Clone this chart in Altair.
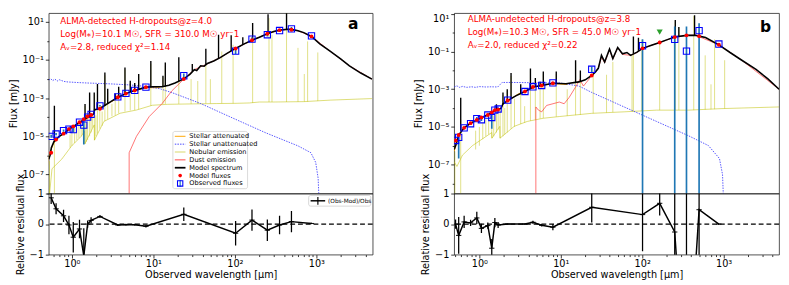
import altair as alt
import numpy as np
import pandas as pd

FONT = "DejaVu Sans"
OLIVE = "#bfbf00"
STEEL = "#1f77b4"
BLUE_SQ = "#0000ff"
UNATT = "#2a2aff"
DUST = "#ff3030"
TOP_H = 186
RES_H = 63

# ================= Panel a : ALMA-detected =================
# (wavelength um, log10 flux mJy)
a_spectrum = [(0.52,-6.2),(0.54,-6.0),(0.56,-5.6),(0.6,-5.3),(0.7,-5.0),(0.8,-4.85),(0.92,-4.62),(1.05,-4.48),
              (1.25,-4.26),(1.45,-4.1),(1.6,-3.96),(1.75,-3.88),(1.86,-3.82),(1.9,-3.6),(2.2,-3.55),(2.6,-3.35),
              (3.0,-3.18),(3.66,-2.95),(4.6,-2.76),(5.9,-2.59),(8.1,-2.42),(10.0,-2.4),(12.8,-2.4),(15.5,-2.32),
              (18.4,-2.2),(23.6,-1.99),(28.0,-1.75),(31.8,-1.5),(34.0,-1.55),(38.0,-1.3),(42.0,-1.32),(46.0,-1.18),
              (55.0,-1.05),(66.0,-0.87),(80.0,-0.65),(102.0,-0.39),(130.0,-0.15),(162.0,0.04),(200.0,0.2),
              (250.0,0.38),(300.0,0.5),(353.0,0.57),(450.0,0.62),(494.0,0.61),(594.0,0.54),(700.0,0.44),
              (870.0,0.24),(1100.0,-0.15),(1470.0,-0.53),(2000.0,-0.95),(2540.0,-1.3),(3500.0,-1.68),(4800.0,-2.0)]
# emission lines of the model spectrum: (wavelength, base, top)
a_spec_lines = [(0.61,-5.3,-3.4),(1.45,-4.1,-3.3),(1.65,-3.95,-2.7),(1.88,-3.8,-2.7),(2.06,-3.57,-2.25),
                (2.54,-3.4,-1.65),(2.75,-3.3,-2.5),(3.4,-3.05,-2.76),(3.75,-2.93,-2.4),(4.48,-2.78,-1.39),
                (5.2,-2.68,-2.08),(5.9,-2.59,-2.2),(6.6,-2.52,-1.73),(9.3,-2.41,-1.05),(13.1,-2.39,-1.82),
                (14.0,-2.38,-1.13),(20.5,-2.1,-0.85),(30.0,-1.6,-1.2),(44.0,-1.25,-0.4),(63.0,-0.9,0.33),
                (90.0,-0.52,0.3),(125.0,-0.18,0.2),(165.0,0.05,0.95),(255.0,0.39,1.4),(430.0,0.62,1.8)]
a_nebular = [(0.52,-8.5),(0.57,-6.7),(0.75,-6.2),(0.99,-5.51),(1.3,-5.0),(1.43,-4.74),(1.44,-5.4),(1.88,-4.4),
             (1.89,-5.2),(2.47,-4.22),(3.9,-3.79),(6.2,-3.62),(9.7,-3.37),(15.0,-3.32),(30.0,-3.3),(60.0,-3.28),
             (100.0,-3.27),(150.0,-3.25),(200.0,-3.2),(300.0,-3.2),(700.0,-3.18),(1500.0,-3.1),(4800.0,-3.02)]
a_neb_lines = [(0.53,-9.0,-6.3),(0.61,-9.0,-4.3),(0.95,-5.6,-4.9),(1.0,-5.5,-4.7),(1.08,-5.35,-4.55),
               (1.15,-5.2,-4.5),(1.22,-5.1,-4.35),(1.3,-5.0,-4.25),(1.36,-4.9,-4.5),(1.45,-5.4,-3.4),
               (1.5,-5.3,-4.3),(1.56,-5.2,-4.1),(1.65,-5.0,-2.8),(1.72,-4.8,-4.0),(1.8,-4.55,-3.9),
               (1.9,-5.2,-2.8),(1.97,-5.0,-3.9),(2.06,-4.85,-2.3),(2.2,-4.6,-3.6),(2.35,-4.45,-3.7),
               (2.54,-4.2,-1.8),(2.75,-4.1,-2.7),(3.1,-3.95,-3.3),(3.4,-3.9,-2.9),(3.75,-3.8,-2.5),
               (4.48,-3.7,-1.5),(5.2,-3.64,-2.2),(5.9,-3.62,-2.4),(6.6,-3.58,-1.8),(9.3,-3.4,-1.2),
               (13.1,-3.32,-1.9),(14.0,-3.3,-1.3),(20.5,-3.3,-1.6),(29.0,-3.3,-2.0),(35.0,-3.3,-2.1),
               (44.0,-3.28,-1.2),(50.0,-3.28,-2.0),(69.0,-3.27,-0.55),(95.0,-3.27,-0.2),(165.0,-3.25,0.15),
               (262.0,-3.2,1.2),(285.0,-3.2,0.33),(430.0,-3.2,1.8),(594.0,-3.19,-0.36),(710.0,-3.18,-1.73),
               (780.0,-3.18,-0.02),(1040.0,-3.15,-0.6)]
a_unatt = [(0.52,-2.05),(0.55,-1.98),(0.58,-2.08),(0.62,-2.0),(0.66,-2.1),(0.7,-2.03),(0.8,-2.12),(0.9,-2.15),
           (1.0,-2.16),(1.2,-2.18),(1.5,-2.2),(2.0,-2.22),(3.0,-2.25),(5.0,-2.3),(8.0,-2.38),(12.0,-2.5),
           (18.0,-2.75),(38.0,-3.28),(95.0,-4.05),(240.0,-4.82),(594.0,-5.5),(855.0,-5.86),(980.0,-6.37),
           (1050.0,-7.2),(1080.0,-8.5)]
a_att = [(0.5,-6.6),(0.52,-6.1),(0.55,-5.75),(0.6,-5.35),(0.7,-5.02),(0.8,-4.87),(1.0,-4.55),(1.5,-4.1),
         (1.85,-3.85),(1.9,-3.62),(3.0,-3.2),(5.0,-2.7),(8.0,-2.45),(12.0,-2.45)]
a_dust = [(5.04,-9.0),(5.04,-5.86),(6.2,-5.0),(8.9,-3.96),(12.8,-3.28),(16.8,-2.62),(23.6,-2.0),(31.8,-1.5),
          (46.0,-1.2),(66.0,-0.87),(102.0,-0.39),(162.0,0.04),(250.0,0.38),(353.0,0.57),(450.0,0.62),
          (594.0,0.54),(870.0,0.24),(1470.0,-0.53),(2540.0,-1.3),(4800.0,-2.0)]
a_bands = [0.557, 0.64, 0.79, 0.92, 1.04, 1.24, 1.4, 1.56, 1.72, 2.21, 3.66, 4.6, 5.9, 8.1, 23.6,
           102.0, 162.0, 250.0, 353.0, 494.0, 870.0]
a_model_logf = [-5.86, -5.17, -4.86, -4.62, -4.48, -4.26, -4.1, -3.96, -3.88, -3.55, -2.95, -2.76, -2.59,
                -2.42, -1.99, -0.39, 0.04, 0.38, 0.57, 0.59, 0.24]
a_obs_logf = [-5.0, -4.88, -4.7, -4.62, -4.65, -4.26, -4.41, -3.99, -3.85, -3.4, -2.93, -2.75, -2.59,
              -2.42, -1.82, -0.53, 0.1, 0.33, 0.55, 0.64, 0.27]
a_obs_bars = [(0.557,-5.08,-4.92),(0.64,-4.94,-4.82),(0.79,-4.76,-4.64),(0.92,-4.7,-4.54),(1.04,-4.8,-4.5),
              (1.24,-4.32,-4.2),(1.4,-5.43,-4.1),(1.56,-4.04,-3.94),(1.72,-3.9,-3.8),(2.21,-3.44,-3.36),
              (3.66,-2.96,-2.9),(4.6,-2.78,-2.72),(5.9,-2.62,-2.56),(8.1,-2.45,-2.39),(23.6,-1.94,-1.7),
              (102.0,-0.68,-0.38),(162.0,-0.05,0.2),(250.0,0.23,0.43),(353.0,0.47,0.63),(494.0,0.54,0.74),
              (870.0,0.24,0.3)]
a_res = [0.86, 0.5, 0.27, -0.03, -0.43, -0.16, -1.04, 0.0, 0.12, 0.25, -0.03, -0.02, -0.02, -0.07, 0.32,
         -0.3, 0.13, -0.2, -0.03, 0.08, 0.02]
a_res_err = [0.2, 0.18, 0.2, 0.3, 0.5, 0.3, 0.9, 0.12, 0.1, 0.05, 0.03, 0.03, 0.03, 0.04, 0.22,
             0.4, 0.35, 0.35, 0.3, 0.35, 0.02]
a_texts = ["ALMA-detected H-dropouts@z=4.0",
           "Log(M\u204e)=10.1 M\u2609, SFR = 310.0 M\u2609 yr\u207b1",
           "A\u1d65=2.8, reduced \u03c7\u00b2=1.14"]

# ================= Panel b : ALMA-undetected =================
b_spectrum = [(0.49,-6.2),(0.52,-5.9),(0.557,-5.43),(0.65,-5.05),(0.78,-4.8),(0.94,-4.63),(1.06,-4.5),
              (1.27,-4.37),(1.42,-4.23),(1.55,-4.11),(1.7,-4.08),(1.85,-4.0),(1.95,-3.77),(2.23,-3.6),
              (2.8,-3.35),(3.63,-3.12),(4.55,-2.88),(5.83,-2.8),(8.0,-2.68),(11.6,-2.71),(16.7,-2.61),
              (20.0,-2.5),(24.0,-2.27),(26.5,-2.1),(28.9,-1.89),(31.6,-1.2),(34.6,-1.55),(39.7,-0.86),
              (43.6,-1.37),(50.0,-0.78),(57.2,-1.12),(65.0,-1.05),(72.0,-1.2),(86.5,-1.03),(101.0,-0.83),
              (130.0,-0.66),(164.0,-0.52),(200.0,-0.38),(251.0,-0.23),(350.0,-0.14),(450.0,-0.13),
              (500.0,-0.18),(600.0,-0.25),(875.0,-0.64),(1200.0,-1.05),(1620.0,-1.42),(2500.0,-1.95),
              (3500.0,-2.45),(4800.0,-3.0)]
b_spec_lines = [(0.59,-5.2,-3.45),(1.62,-4.08,-3.8),(1.95,-3.8,-3.17),(2.2,-3.6,-3.0),(2.45,-3.5,-2.14),
                (3.22,-3.2,-2.74),(4.24,-2.95,-1.9),(4.87,-2.85,-2.4),(5.57,-2.8,-2.6),(6.1,-2.78,-2.06),
                (8.8,-2.68,-2.06),(15.2,-2.65,-1.46),(17.4,-2.6,-2.0),(78.0,-1.1,-0.2),(90.0,-0.95,-0.27),
                (255.0,-0.22,0.68),(282.0,-0.2,0.3),(440.0,-0.13,0.93)]
b_nebular = [(0.49,-6.85),(0.53,-7.1),(0.62,-6.5),(0.82,-6.0),(1.08,-5.65),(1.42,-5.3),(1.43,-5.6),
             (1.78,-4.97),(1.79,-5.6),(2.68,-4.97),(3.87,-4.71),(6.1,-4.54),(9.6,-4.45),(24.0,-4.28),
             (60.0,-4.2),(150.0,-4.11),(375.0,-4.11),(930.0,-4.03),(4800.0,-3.94)]
b_neb_lines = [(0.5,-9.0,-6.3),(0.59,-9.0,-4.6),(0.9,-6.2,-5.2),(1.0,-6.0,-5.0),(1.1,-5.65,-4.8),
               (1.2,-5.5,-4.6),(1.3,-5.4,-4.5),(1.42,-5.6,-4.3),(1.5,-5.5,-4.4),(1.62,-5.3,-3.9),
               (1.7,-5.15,-4.3),(1.8,-5.6,-4.0),(1.95,-5.5,-3.3),(2.05,-5.4,-4.0),(2.2,-5.3,-3.1),
               (2.45,-5.1,-2.3),(2.7,-5.0,-3.5),(3.22,-4.85,-2.9),(3.6,-4.78,-3.9),(4.24,-4.68,-2.0),
               (4.87,-4.62,-2.6),(5.57,-4.56,-2.8),(6.1,-4.54,-2.2),(8.8,-4.46,-2.2),(12.0,-4.42,-3.0),
               (15.2,-4.38,-1.6),(17.4,-4.36,-2.2),(25.0,-4.28,-2.0),(36.5,-4.25,-2.23),(43.6,-4.22,-1.55),
               (75.0,-4.18,-1.2),(78.0,-4.18,-0.25),(99.0,-4.16,-0.37),(164.0,-4.11,-0.4),(255.0,-4.11,0.6),
               (282.0,-4.11,0.3),(430.0,-4.11,0.9),(594.0,-4.08,-1.2),(700.0,-4.07,-2.74),(775.0,-4.06,-0.35),
               (1030.0,-4.03,-1.46)]
b_unatt = [(0.49,-2.88),(0.53,-2.82),(0.57,-2.9),(0.62,-2.85),(0.7,-2.9),(0.8,-2.87),(0.9,-2.9),(1.0,-2.86),
           (1.2,-2.88),(1.4,-2.87),(1.68,-2.88),(1.8,-2.75),(1.9,-2.64),(2.5,-2.64),(4.0,-2.65),(6.0,-2.66),
           (9.6,-2.66),(16.7,-2.83),(24.0,-3.17),(60.0,-3.94),(150.0,-4.71),(375.0,-5.48),(650.0,-5.99),
           (890.0,-6.68),(970.0,-7.53),(1000.0,-9.0)]
b_att = [(0.49,-6.3),(0.52,-5.95),(0.557,-5.45),(0.65,-5.07),(0.8,-4.8),(1.0,-4.57),(1.5,-4.15),
         (1.85,-4.02),(1.95,-3.8),(3.0,-3.25),(5.0,-2.85),(8.0,-2.7),(12.0,-2.75)]
b_dust = [(4.94,-9.5),(4.94,-3.94),(5.32,-4.11),(5.83,-4.2),(6.7,-3.86),(9.6,-3.68),(11.0,-3.77),
          (12.7,-3.43),(15.9,-2.74),(17.1,-2.49),(19.0,-2.83),(22.0,-2.49),(24.0,-2.27),(28.9,-1.89),
          (31.6,-1.3),(34.6,-1.6),(39.7,-0.9),(43.6,-1.4),(50.0,-0.8),(57.2,-1.15),(72.0,-1.2),(86.5,-1.05),
          (101.0,-0.83),(164.0,-0.52),(251.0,-0.23),(350.0,-0.14),(450.0,-0.13),(875.0,-0.64),
          (1620.0,-1.42),(4800.0,-3.0)]
b_bands = [0.51, 0.557, 0.65, 0.78, 0.93, 1.06, 1.27, 1.42, 1.55, 1.7, 2.23, 3.63, 4.55, 5.83, 8.0, 24.0,
           101.0, 164.0, 251.0, 350.0, 500.0, 875.0]
b_model_logf = [-5.72, -5.43, -5.05, -4.8, -4.63, -4.5, -4.37, -4.23, -4.11, -4.08, -3.6, -3.12, -2.88, -2.8,
                -2.68, -2.27, -0.83, -0.52, -0.23, -0.14, -0.18, -0.64]
b_obs_logf = [-5.72, -5.56, -5.05, -4.83, -4.56, -4.62, -4.37, -4.5, -4.11, -4.05, -3.58, -3.12, -2.87, -2.8,
              -2.66, -1.94, -0.69, None, -0.35, -0.98, 0.11, -0.6]
b_upper_limits = [(164.0, 0.03)]
b_obs_bars = [(0.51,-5.8,-5.64),(0.557,-6.68,-5.45),(0.65,-5.12,-4.98),(0.78,-4.9,-4.76),(0.93,-4.65,-4.48),
              (1.06,-4.68,-4.56),(1.27,-4.42,-4.32),(1.42,-5.1,-4.35),(1.55,-4.16,-4.06),(1.7,-4.09,-4.01),
              (2.23,-3.6,-3.56),(3.63,-3.13,-3.11),(4.55,-2.89,-2.85),(5.83,-2.82,-2.78),(8.0,-2.69,-2.63),
              (24.0,-2.1,-1.8),(101.0,-12.0,-0.35),(251.0,-12.0,0.33),(350.0,-12.0,0.33),(500.0,-12.0,0.5),
              (875.0,-0.62,-0.58)]
b_res = [0.0, -0.37, 0.07, 0.04, 0.2, -0.14, -0.05, -0.79, 0.05, -0.03, 0.0, 0.0, 0.06, -0.04, -0.1, 0.55,
         0.31, 0.68, -0.26, -6.0, 0.47, 0.0]
b_res_err = [0.15, 0.6, 0.2, 0.1, 0.2, 0.15, 0.1, 0.3, 0.15, 0.1, 0.02, 0.02, 0.05, 0.04, 0.1, 0.5,
             1.2, 0.4, 2.0, 8.0, 3.0, 0.03]
b_texts = ["ALMA-undetected H-dropouts@z=3.8",
           "Log(M\u204e)=10.3 M\u2609, SFR = 45.0 M\u2609 yr\u207b1",
           "A\u1d65=2.0, reduced \u03c7\u00b2=0.22"]

LEGEND_LABELS = ["Stellar attenuated", "Stellar unattenuated", "Nebular emission", "Dust emission",
                 "Model spectrum", "Model fluxes", "Observed fluxes"]

# ================= helpers =================
ONE = pd.DataFrame({"k": [0]})


def pairs_df(pairs):
    return pd.DataFrame({"lam": [p[0] for p in pairs], "f": [10.0 ** p[1] for p in pairs],
                         "i": list(range(len(pairs)))})


def seg_df(triples):
    return pd.DataFrame({"lam": [t[0] for t in triples], "f": [10.0 ** t[1] for t in triples],
                         "f2": [10.0 ** t[2] for t in triples]})


RS = alt.Scale(domain=[-1, 1], nice=False)

E = "round(log(datum.value)/LN10)"
LBL_Y = (f"{E} == 1 ? '10\u00b9' : {E} == -1 ? '10\u207b\u00b9' : {E} == -3 ? '10\u207b\u00b3' : "
         f"{E} == -5 ? '10\u207b\u2075' : {E} == -7 ? '10\u207b\u2077' : ''")
TS_Y = {"condition": {"test": f"({E} + 100) % 2 == 1", "value": 3.5}, "value": 2}
LBL_X = ("datum.value == 1 ? '10\u2070' : datum.value == 10 ? '10\u00b9' : "
         "datum.value == 100 ? '10\u00b2' : datum.value == 1000 ? '10\u00b3' : ''")
TS_X = {"condition": {"test": "abs(log(datum.value)/LN10 - round(log(datum.value)/LN10)) < 0.001",
                      "value": 3.5}, "value": 2}


def y_top_axis(flush):
    kw = dict(values=[10.0 ** e for e in range(-8, 2)], labelExpr=LBL_Y, tickSize=TS_Y, title="Flux [mJy]",
              titlePadding=4, labelPadding=2)
    if flush:
        kw["labelFlush"] = 6
    return alt.Axis(**kw)


def x_bot_axis(lo, hi):
    ticks = [m * 10.0 ** d for d in range(-1, 4) for m in range(1, 10) if lo <= m * 10.0 ** d <= hi]
    return alt.Axis(values=ticks, labelExpr=LBL_X, tickSize=TS_X, title="Observed wavelength [\u03bcm]",
                    titlePadding=1, labelPadding=1, labelFlush=False)


YAX_RES = alt.Axis(values=[-1, 0, 1], labelExpr="datum.value < 0 ? '\u22121' : '' + datum.value",
                   tickSize=3.5, title="Relative residual flux", titlePadding=4, labelPadding=2)


def text_layer(s, x, y, size=8.0, color="red", weight="normal", align="left"):
    return alt.Chart(ONE).mark_text(align=align, baseline="middle", fontSize=size, color=color,
                                    fontWeight=weight, font=FONT).encode(
        x=alt.value(x), y=alt.value(y), text=alt.value(s))


def hseg(x1, x2, y, **kw):
    return alt.Chart(ONE).mark_rule(**kw).encode(x=alt.value(x1), x2=alt.value(x2), y=alt.value(y))


def vseg(x, y1, y2, **kw):
    return alt.Chart(ONE).mark_rule(**kw).encode(x=alt.value(x), y=alt.value(y1), y2=alt.value(y2))


def legend_layers():
    L = [alt.Chart(ONE).mark_rect(fill="white", stroke="#cccccc", strokeWidth=0.8, cornerRadius=2,
                                  opacity=0.9).encode(x=alt.value(128), x2=alt.value(205),
                                                      y=alt.value(122), y2=alt.value(181))]
    rows = [127 + 8.1 * k for k in range(7)]
    L.append(hseg(130, 141, rows[0], color="orange", strokeWidth=1))
    L.append(hseg(130, 141, rows[1], color=UNATT, strokeWidth=0.9, strokeDash=[1.5, 1.2]))
    L.append(hseg(130, 141, rows[2], color=OLIVE, strokeWidth=1, opacity=0.6))
    L.append(hseg(130, 141, rows[3], color=DUST, strokeWidth=0.9))
    L.append(hseg(130, 141, rows[4], color="black", strokeWidth=1.8))
    L.append(alt.Chart(ONE).mark_point(shape="circle", filled=True, color="red", size=14, opacity=1).encode(
        x=alt.value(135.5), y=alt.value(rows[5])))
    L.append(vseg(135.5, rows[6] - 3.5, rows[6] + 3.5, color=STEEL, strokeWidth=1.2))
    L.append(alt.Chart(ONE).mark_point(shape="square", filled=False, color=BLUE_SQ, size=30,
                                       strokeWidth=1.1, opacity=1).encode(x=alt.value(135.5), y=alt.value(rows[6])))
    for k, lab in enumerate(LEGEND_LABELS):
        L.append(text_layer(lab, 145, rows[k], size=6.8, color="black"))
    return L


def top_panel(xs, ys, flush, width, spectrum, spec_lines, nebular, neb_lines, unatt, att, dust, bands,
              model_logf, obs_logf, obs_bars, texts, text_xy, letter, letter_xy, upper=None, legend=False):
    x = alt.X("lam:Q", scale=xs, axis=None)
    y = alt.Y("f:Q", scale=ys, axis=y_top_axis(flush))
    y2 = alt.Y2("f2:Q")
    o = alt.Order("i:Q")
    layers = [
        alt.Chart(pairs_df(nebular)).mark_line(color=OLIVE, strokeWidth=0.9, opacity=0.6, clip=True).encode(x=x, y=y, order=o),
        alt.Chart(seg_df(neb_lines)).mark_rule(color=OLIVE, strokeWidth=0.8, opacity=0.6, clip=True).encode(x=x, y=y, y2=y2),
        alt.Chart(pairs_df(att)).mark_line(color="orange", strokeWidth=1, clip=True).encode(x=x, y=y, order=o),
        alt.Chart(pairs_df(unatt)).mark_line(color=UNATT, strokeWidth=0.8, strokeDash=[1.5, 1.2], clip=True).encode(x=x, y=y, order=o),
        alt.Chart(pairs_df(dust)).mark_line(color=DUST, strokeWidth=0.8, opacity=0.85, clip=True).encode(x=x, y=y, order=o),
        alt.Chart(pairs_df(spectrum)).mark_line(color="black", strokeWidth=1.6, clip=True).encode(x=x, y=y, order=o),
        alt.Chart(seg_df(spec_lines)).mark_rule(color="black", strokeWidth=1.4, clip=True).encode(x=x, y=y, y2=y2),
        alt.Chart(seg_df(obs_bars)).mark_rule(color=STEEL, strokeWidth=1.7, clip=True).encode(x=x, y=y, y2=y2),
    ]
    obs_pairs = [(l, v) for l, v in zip(bands, obs_logf) if v is not None]
    layers.append(alt.Chart(pairs_df(obs_pairs)).mark_point(shape="square", filled=False, color=BLUE_SQ, size=42,
                                                            strokeWidth=1.1, opacity=1, clip=True).encode(x=x, y=y))
    if upper:
        layers.append(alt.Chart(pairs_df(upper)).mark_point(shape="triangle-down", filled=True, color="#2ca02c",
                                                            size=40, opacity=1, clip=True).encode(x=x, y=y))
    layers.append(alt.Chart(pairs_df(list(zip(bands, model_logf)))).mark_point(
        shape="circle", filled=True, color="red", size=16, opacity=1, clip=True).encode(x=x, y=y))
    for k, s in enumerate(texts):
        layers.append(text_layer(s, text_xy[0], text_xy[1] + 13.5 * k, size=9))
    layers.append(text_layer(letter, letter_xy[0], letter_xy[1], size=16, color="black", weight="bold",
                             align="center"))
    if legend:
        layers += legend_layers()
    return alt.layer(*layers).properties(width=width, height=TOP_H)


def resid_panel(xs, xaxis, width, bands, res, res_err, legend=False):
    df = pd.DataFrame({"lam": bands, "r": res,
                       "lo": [r - e for r, e in zip(res, res_err)],
                       "hi": [r + e for r, e in zip(res, res_err)]})
    x = alt.X("lam:Q", scale=xs, axis=xaxis)
    y = alt.Y("r:Q", scale=RS, axis=YAX_RES)
    layers = [
        alt.Chart(pd.DataFrame({"r": [0.0]})).mark_rule(color="black", strokeWidth=1.3, strokeDash=[5, 3]).encode(y=y),
        alt.Chart(df).mark_rule(color="black", strokeWidth=1.3, clip=True).encode(
            x=x, y=alt.Y("lo:Q", scale=RS, axis=YAX_RES), y2="hi:Q"),
        alt.Chart(df).mark_line(color="black", strokeWidth=1.5, clip=True).encode(x=x, y=y),
        alt.Chart(df).mark_point(shape="M-1,0L1,0", size=30, filled=False, color="black", strokeWidth=1,
                                 opacity=1, clip=True).encode(x=x, y=y),
    ]
    if legend:
        layers += [
            alt.Chart(ONE).mark_rect(fill="white", stroke="#cccccc", strokeWidth=0.8, cornerRadius=2).encode(
                x=alt.value(268), x2=alt.value(332), y=alt.value(2), y2=alt.value(13)),
            hseg(270, 285, 7.5, color="black", strokeWidth=1.5),
            vseg(277.5, 3.5, 11.5, color="black", strokeWidth=1.2),
            text_layer("(Obs-Mod)/Obs", 288, 7.5, size=6, color="black"),
        ]
    return alt.layer(*layers).properties(width=width, height=RES_H)


XS_A = alt.Scale(type="log", domain=[0.52, 4900], nice=False)
XS_B = alt.Scale(type="log", domain=[0.49, 4800], nice=False)

top_a = top_panel(XS_A, alt.Scale(type="log", domain=[1e-8, 29], nice=False), False, 334, a_spectrum,
                  a_spec_lines, a_nebular, a_neb_lines, a_unatt, a_att, a_dust, a_bands, a_model_logf,
                  a_obs_logf, a_obs_bars, a_texts, (12, 8), "a", (314, 11), legend=True)
bot_a = resid_panel(XS_A, x_bot_axis(0.52, 4900), 334, a_bands, a_res, a_res_err, legend=True)

top_b = top_panel(XS_B, alt.Scale(type="log", domain=[2.9e-9, 11], nice=False), True, 335, b_spectrum,
                  b_spec_lines, b_nebular, b_neb_lines, b_unatt, b_att, b_dust, b_bands, b_model_logf,
                  b_obs_logf, b_obs_bars, b_texts, (14, 6), "b", (321, 14), upper=b_upper_limits)
bot_b = resid_panel(XS_B, x_bot_axis(0.49, 4800), 335, b_bands, b_res, b_res_err)

col_a = alt.vconcat(top_a, bot_a, spacing=0, bounds="flush")
col_b = alt.vconcat(top_b, bot_b, spacing=0, bounds="flush")

chart = alt.hconcat(col_a, col_b, spacing=40).properties(padding=0).configure_view(
    stroke="#222222", strokeWidth=0.8
).configure_axis(
    labelFont=FONT, titleFont=FONT, labelFontSize=10, titleFontSize=10, titleFontWeight="normal",
    labelColor="black", titleColor="black", tickColor="black", tickWidth=0.8, domain=False, grid=False
).configure_text(font=FONT)

chart.save("out.html", embed_options={"renderer": "svg", "actions": False})
